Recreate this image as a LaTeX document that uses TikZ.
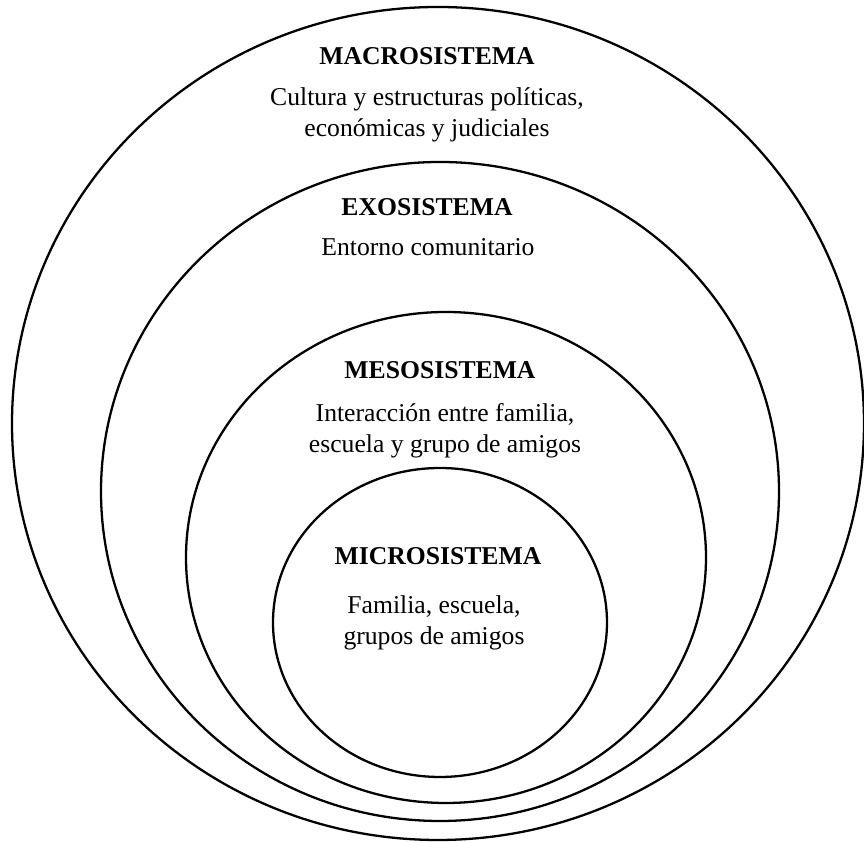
\documentclass[tikz,border=0pt]{standalone}
\usepackage{fontspec}
\setmainfont{Liberation Serif}
\begin{document}
\begin{tikzpicture}[
    sys/.style={line width=1.3pt},
    tit/.style={font=\fontsize{14.6}{17.9}\selectfont\bfseries, inner sep=0pt},
    txt/.style={font=\fontsize{14.6}{17.9}\selectfont, align=center, inner sep=0pt, anchor=base}]
      \useasboundingbox (0, 0) rectangle (17.28, 16.86);
      % the four systems
      \draw[sys] (8.76, 8.39) ellipse (8.52 and 8.33);
      \draw[sys] (8.80, 7.03) ellipse (6.78 and 6.59);
      \draw[sys] (8.92, 5.71) ellipse (5.20 and 4.91);
      \draw[sys] (8.80, 4.41) ellipse (3.34 and 3.09);
      % labels (base = last line)
      \node[tit] (macrotit) at (8.54, 15.74) {MACROSISTEMA};
      \node[txt] (macrotxt) at (8.54, 14.12) {Cultura y estructuras políticas,\\económicas y judiciales};
      \node[tit] (exotit) at (8.54, 12.72) {EXOSISTEMA};
      \node[txt] (exotxt) at (8.56, 11.74) {Entorno comunitario};
      \node[tit] (mesotit) at (8.80, 9.46) {MESOSISTEMA};
      \node[txt] (mesotxt) at (8.90, 7.80) {Interacción entre familia,\\escuela y grupo de amigos};
      \node[tit] (microtit) at (8.76, 5.74) {MICROSISTEMA};
      \node[txt] (microtxt) at (8.68, 3.96) {Familia, escuela,\\grupos de amigos};
    \end{tikzpicture}
\end{document}
